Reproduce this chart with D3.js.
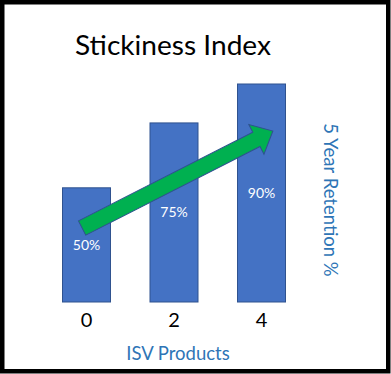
<!DOCTYPE html>
<html>
<head>
<meta charset="utf-8">
<script src="https://d3js.org/d3.v7.min.js"></script>
<style>
  html, body { margin: 0; padding: 0; background: #fff; }
  text { font-family: "Lato", "Open Sans", sans-serif; }
</style>
</head>
<body>
<div id="chart"></div>
<script>
// data
const products = [0, 2, 4];            // ISV products
const retention = [50, 75, 90];        // 5 year retention %
const tickLabels = ["0", "2", "4"];
const valueLabels = ["50%", "75%", "90%"];
// trend arrow, in data units (x = products, v = retention scale)
const trendX = [-0.1, 4.26];
const trendV = [34.5, 71.9];

const width = 391, height = 374;

const svg = d3.select("#chart").append("svg")
  .attr("width", width)
  .attr("height", height);

svg.append("rect")
  .attr("width", width).attr("height", height)
  .attr("fill", "#fff");

// frame
svg.append("rect")
  .attr("x", 2.25).attr("y", 2.25)
  .attr("width", 386).attr("height", 369)
  .attr("fill", "none")
  .attr("stroke", "#000")
  .attr("stroke-width", 4.5);

const x = d3.scaleLinear().domain([0, 4]).range([86.5, 261.5]);
const y = d3.scaleLinear().domain([6, 90]).range([302, 84]);
const barW = 48;

// title
svg.append("text")
  .attr("x", 75).attr("y", 55)
  .attr("textLength", 196)
  .attr("lengthAdjust", "spacingAndGlyphs")
  .style("font-size", "27px")
  .attr("fill", "#000")
  .text("Stickiness Index");

// bars
svg.selectAll("rect.bar")
  .data(products)
  .enter()
  .append("rect")
  .attr("class", "bar")
  .attr("x", (d) => x(d) - barW / 2)
  .attr("y", (d, i) => y(retention[i]))
  .attr("width", barW)
  .attr("height", (d, i) => y.range()[0] - y(retention[i]))
  .attr("fill", "#4472C4")
  .attr("stroke", "#2F528F")
  .attr("stroke-width", 1);

// arrow
const p0 = [x(trendX[0]), y(trendV[0])];
const p1 = [x(trendX[1]), y(trendV[1])];
const len = Math.hypot(p1[0] - p0[0], p1[1] - p0[1]);
const ang = Math.atan2(p1[1] - p0[1], p1[0] - p0[0]) * 180 / Math.PI;
const shaftW = 8, headW = 16.7, headL = 18.5;
const arrowPts = [
  [0, -shaftW], [len - headL, -shaftW], [len - headL, -headW],
  [len, 0],
  [len - headL, headW], [len - headL, shaftW], [0, shaftW]
];
svg.append("path")
  .attr("d", d3.line()(arrowPts) + "Z")
  .attr("transform", `translate(${p0[0]},${p0[1]}) rotate(${ang})`)
  .attr("fill", "#00B050")
  .attr("stroke", "#2F528F")
  .attr("stroke-width", 1)
  .attr("stroke-linejoin", "miter");

// value labels, middle of each bar
svg.selectAll("text.val")
  .data(products)
  .enter()
  .append("text")
  .attr("class", "val")
  .attr("x", (d) => x(d))
  .attr("y", (d, i) => (y(retention[i]) + y.range()[0]) / 2 + 5)
  .attr("text-anchor", "middle")
  .style("font-size", "14px")
  .attr("fill", "#fff")
  .text((d, i) => valueLabels[i]);

// x tick labels
svg.selectAll("text.tick")
  .data(products)
  .enter()
  .append("text")
  .attr("class", "tick")
  .attr("x", (d) => x(d))
  .attr("y", 327)
  .attr("text-anchor", "middle")
  .style("font-size", "20px")
  .attr("fill", "#000")
  .text((d, i) => tickLabels[i]);

// axis titles
svg.append("text")
  .attr("x", 178).attr("y", 360)
  .attr("text-anchor", "middle")
  .style("font-size", "18.5px")
  .attr("fill", "#2E75B6")
  .text("ISV Products");

svg.append("text")
  .attr("transform", "translate(324,200) rotate(90)")
  .attr("text-anchor", "middle")
  .style("font-size", "18.5px")
  .attr("fill", "#2E75B6")
  .text("5 Year Retention %");
</script>
</body>
</html>
